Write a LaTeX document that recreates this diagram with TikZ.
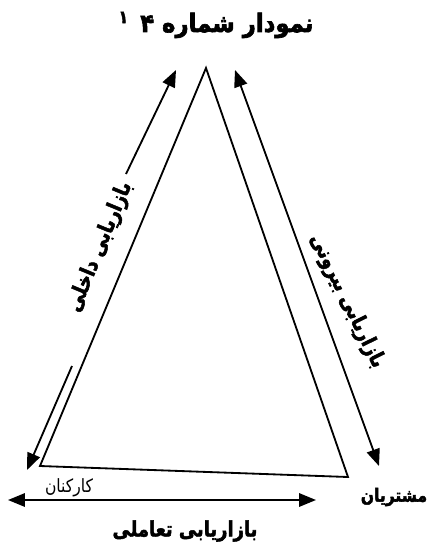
\documentclass[tikz,border=0pt]{standalone}
\usepackage{fontspec}
\usetikzlibrary{arrows.meta,positioning,calc}
\TeXXeTstate=1
\newfontfamily\farsi[Script=Arabic]{DejaVu Sans}
\newfontfamily\farsib[Script=Arabic,FakeBold=2.5]{DejaVu Sans Bold}
\newcommand{\fa}[1]{\scalebox{0.85}[1]{\beginR #1\endR}}
\tikzset{side/.style={line width=1.3pt},
  flow/.style={line width=1.3pt,-{Triangle[length=12pt,width=9.5pt]}},
  biflow/.style={line width=1.3pt,{Triangle[length=12pt,width=9.5pt]}-{Triangle[length=12pt,width=9.5pt]}},
  lbl/.style={font=\farsib\fontsize{15}{18}\selectfont,inner sep=1pt}}
\begin{document}
\begin{tikzpicture}[x=0.025cm,y=-0.025cm]
\useasboundingbox (0,0) rectangle (441,549);
\node[font=\farsib\fontsize{18}{21}\selectfont] (title) at (216,25) {\scalebox{0.9}[1]{\beginR نمودار شماره ۴\enspace\textsuperscript{۱}\endR}};
% triangle
\coordinate (top) at (206,68);\coordinate (staff) at (40,466);\coordinate (cust) at (348,477);
\draw[side,line join=miter] (top)--(staff)--(cust)--cycle;
% internal marketing
\coordinate (inA) at (27,470);\coordinate (inB) at (72,366);\coordinate (inC) at (126,174);\coordinate (inD) at (176,70);
\draw[flow] (inB)--(inA);
\draw[flow] (inC)--(inD);
\node[lbl,rotate=67.5] (inlbl) at (100,247) {\fa{بازاریابی داخلی}};
% external marketing
\coordinate (exA) at (379,466);\coordinate (exB) at (235,70);
\draw[biflow] (exB)--(exA);
\node[lbl,rotate=-64] (exlbl) at (347,301) {\fa{بازاریابی بیرونی}};
% interactive marketing
\coordinate (itA) at (8,500);\coordinate (itB) at (316,500);
\draw[biflow] (itA)--(itB);
\node[font=\farsi\fontsize{13}{15}\selectfont,inner sep=1pt,anchor=south] (staffl) at (69,499) {\fa{کارکنان}};
\node[font=\farsib\fontsize{13}{15}\selectfont] (custl) at (394,497) {\fa{مشتریان}};
\node[lbl] (itlbl) at (185,531) {\fa{بازاریابی تعاملی}};
\end{tikzpicture}
\end{document}
